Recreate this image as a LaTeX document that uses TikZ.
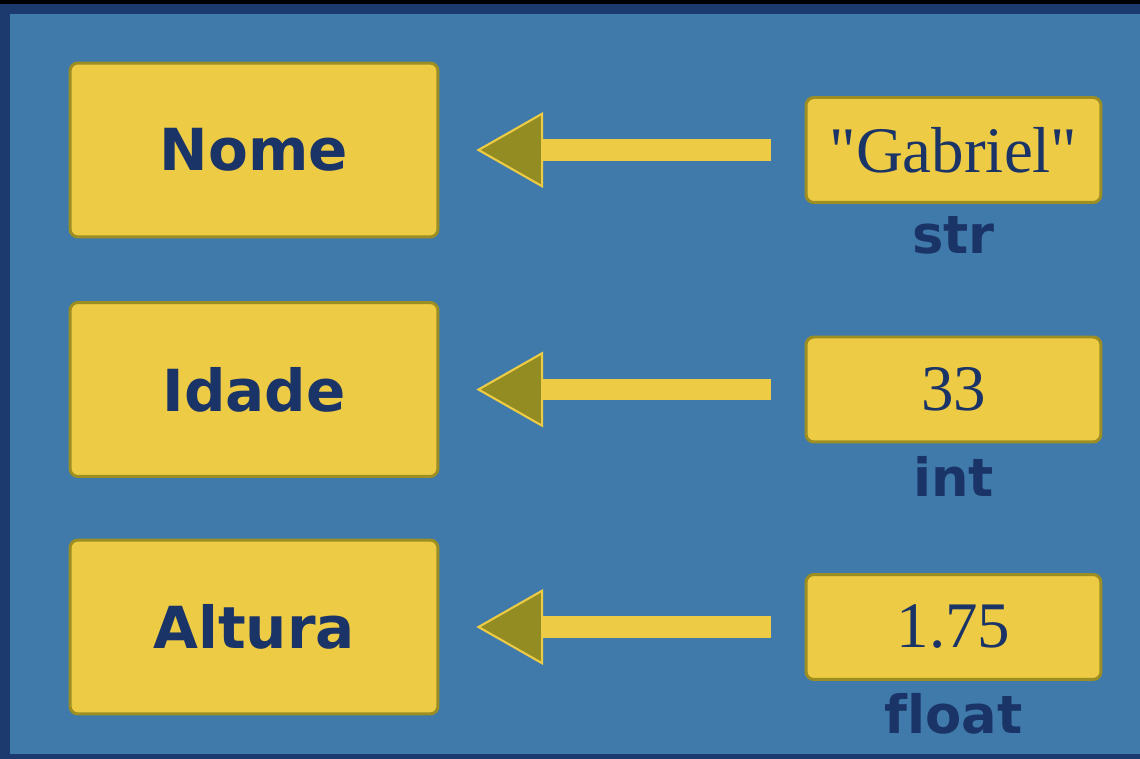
\documentclass[tikz,border=0pt]{standalone}
\usepackage{fontspec}
\setmainfont{Liberation Serif}[Ligatures=TeXOff]
\newfontfamily\labelfont{DejaVu Sans}[Ligatures=NoCommon]
\usetikzlibrary{positioning, arrows.meta}

\definecolor{boardblue}{HTML}{3F7AAA}
\definecolor{boardnavy}{HTML}{1C3A6E}
\definecolor{boxyellow}{HTML}{EDCB45}
\definecolor{boxolive}{HTML}{9C8E22}
\definecolor{headolive}{HTML}{938C22}
\definecolor{textnavy}{HTML}{1B3467}

\tikzset{
  varbox/.style={draw=boxolive, fill=boxyellow, line width=1.7pt, rounded corners=4.5pt,
    minimum width=7.36cm, minimum height=3.48cm, text=textnavy,
    font=\labelfont\bfseries\fontsize{33}{36}\selectfont},
  valbox/.style={draw=boxolive, fill=boxyellow, line width=1.7pt, rounded corners=4.5pt,
    minimum width=5.9cm, minimum height=2.1cm, text=textnavy,
    font=\fontsize{37}{40}\selectfont},
  typelbl/.style={inner sep=0pt, text=textnavy, font=\labelfont\bfseries\fontsize{30}{32}\selectfont},
  bigarrow/.style={draw=boxyellow, line width=12.5pt,
    -{Triangle[length=38pt, width=43pt, line width=1.2pt, fill=headolive]},
    shorten >=21pt, shorten <=19pt}
}

\begin{document}
\begin{tikzpicture}[x=0.02cm, y=-0.02cm]
  % board and frame
  \fill[boardblue] (0,0) rectangle (1140,759);
  \fill[boardnavy] (0,0) rectangle (10,759);
  \fill[boardnavy] (0,0) rectangle (1140,14);
  \fill[boardnavy] (0,754) rectangle (1140,759);
  \fill[black] (0,0) rectangle (1140,4);

  \foreach \s/\nm/\val/\typ/\y in {1/Nome/"Gabriel"/str/150, 2/Idade/33/int/389.5, 3/Altura/1.75/float/627}
  {
    \node[varbox] (var\s) at (254,\y) {\nm};
    \node[valbox] (val\s) at (953.5,\y) {\val};
    \node[typelbl, below=7pt of val\s] (typ\s) {\typ};
    \draw[bigarrow] (val\s.west) -- (var\s.east);
  }
\end{tikzpicture}
\end{document}
